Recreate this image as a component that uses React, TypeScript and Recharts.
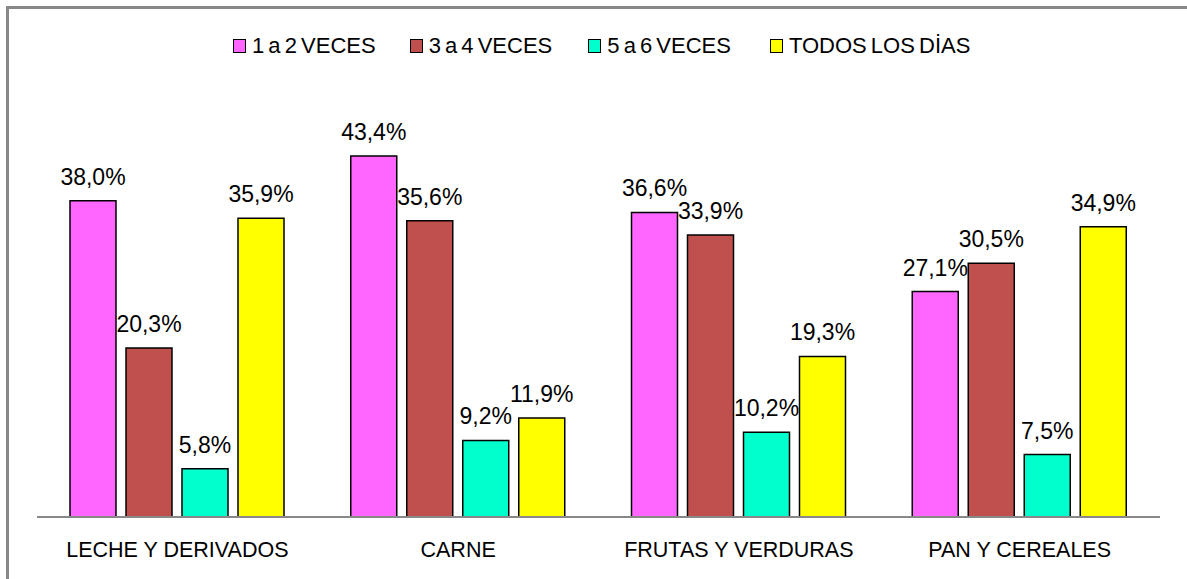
import { BarChart, Bar, XAxis, YAxis, Legend, LabelList } from "recharts";

const categories = ["LECHE Y DERIVADOS", "CARNE", "FRUTAS Y VERDURAS", "PAN Y CEREALES"];
const series = ["1 a 2 VECES", "3 a 4 VECES", "5 a 6 VECES", "TODOS LOS DİAS"];
const unoADos = [38.0, 43.4, 36.6, 27.1];
const tresACuatro = [20.3, 35.6, 33.9, 30.5];
const cincoASeis = [5.8, 9.2, 10.2, 7.5];
const todosLosDias = [35.9, 11.9, 19.3, 34.9];
const colors = ["#ff66ff", "#c0504d", "#00ffcc", "#ffff00"];

const values = [unoADos, tresACuatro, cincoASeis, todosLosDias];
const data = categories.map((name, i) => ({
  name,
  s0: unoADos[i],
  s1: tresACuatro[i],
  s2: cincoASeis[i],
  s3: todosLosDias[i],
}));

const font = "'Liberation Sans', Arial, sans-serif";

const fmt = (v: any) => Number(v).toFixed(1).replace(".", ",") + "%";

const legendGaps = [34, 36, 39, 0];

const LegendContent = () => (
  <div
    style={{
      display: "flex",
      justifyContent: "flex-start",
      paddingLeft: 233,
      fontFamily: font,
      fontSize: 22,
      color: "#000",
      height: 26,
      alignItems: "center",
    }}
  >
    {series.map((s, i) => (
      <div key={s} style={{ display: "flex", alignItems: "center", marginRight: legendGaps[i] }}>
        <span
          style={{
            display: "inline-block",
            width: 11,
            height: 12,
            background: colors[i],
            border: "1.5px solid #000",
            marginRight: 6,
          }}
        />
        <span style={{ wordSpacing: -2 }}>{s}</span>
      </div>
    ))}
  </div>
);

export default function App() {
  return (
    <div style={{ position: "absolute", left: 0, top: 0, width: 1187, height: 579, background: "#fff", overflow: "hidden" }}>
      <div
        style={{
          position: "absolute",
          left: 6,
          top: 6,
          width: 1300,
          height: 700,
          borderTop: "3px solid #888",
          borderLeft: "3px solid #888",
        }}
      />
      <div style={{ position: "absolute", left: 0, top: 0 }}>
        <BarChart
          width={1187}
          height={579}
          data={data}
          margin={{ top: 75, right: 27, bottom: 32, left: 37 }}
          barCategoryGap={33}
          barGap={10}
        >
          <XAxis
            dataKey="name"
            axisLine={{ stroke: "#888", strokeWidth: 2 }}
            tickLine={false}
            tickSize={0}
            tickMargin={25}
            interval={0}
            tick={{ fill: "#000", fontSize: 21.5, fontFamily: font }}
          />
          <YAxis hide domain={[0, 50]} />
          <Legend verticalAlign="top" content={LegendContent} wrapperStyle={{ top: 33, left: 0, width: 1187 }} />
          {values.map((_, i) => (
            <Bar
              key={i}
              dataKey={"s" + i}
              name={series[i]}
              fill={colors[i]}
              stroke="#000"
              strokeWidth={1.5}
              isAnimationActive={false}
            >
              <LabelList
                dataKey={"s" + i}
                position="top"
                offset={16}
                formatter={fmt}
                style={{ fill: "#000", fontSize: 23, fontFamily: font }}
              />
            </Bar>
          ))}
        </BarChart>
      </div>
    </div>
  );
}
